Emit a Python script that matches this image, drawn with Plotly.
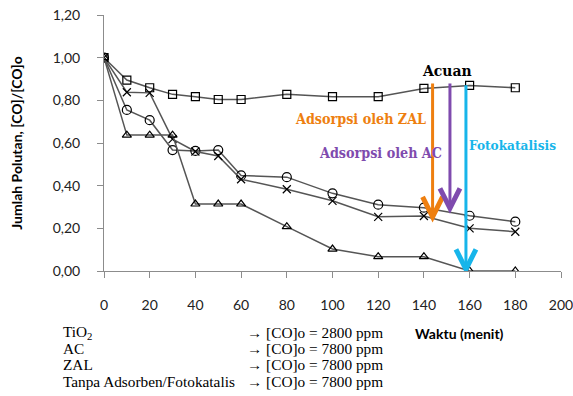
import plotly.graph_objects as go

# Time (minutes) and normalised CO concentration for each condition
waktu = [0, 10, 20, 30, 40, 50, 60, 80, 100, 120, 140, 160, 180]
tanpa = [1.00, 0.895, 0.859, 0.828, 0.817, 0.804, 0.804, 0.828, 0.817, 0.817, 0.856, 0.870, 0.859]
ac = [1.00, 0.755, 0.707, 0.567, 0.563, 0.567, 0.448, 0.440, 0.364, 0.311, 0.297, 0.259, 0.231]
zal = [1.00, 0.838, 0.835, 0.618, 0.560, 0.539, 0.430, 0.383, 0.329, 0.254, 0.258, 0.200, 0.184]
tio2 = [1.00, 0.637, 0.637, 0.637, 0.314, 0.314, 0.314, 0.208, 0.103, 0.067, 0.067, 0.0, 0.0]

x_ticks = [0, 20, 40, 60, 80, 100, 120, 140, 160, 180, 200]
y_ticks = [0.0, 0.2, 0.4, 0.6, 0.8, 1.0, 1.2]

# Vertical arrows: (colour, x, top, tip)
arrow_zal = ("#EE7F10", 143.8, 0.879, 0.254)
arrow_ac = ("#7F4BAE", 151.4, 0.879, 0.294)
arrow_foto = ("#17B5EA", 158.4, 0.871, 0.008)
arrows = [arrow_zal, arrow_ac, arrow_foto]

W, H = 573, 396
L, R, T, B = 104, 12, 15, 125
PW, PH = W - L - R, H - T - B


def px(xpix, ypix):
    """Figure pixel position -> paper coordinates of the plot area."""
    return (xpix - L) / PW, (H - B - ypix) / PH


line_col = "#555555"
series = [
    ("Tanpa Adsorben/Fotokatalis", tanpa, "square-open", 8),
    ("AC", ac, "circle-open", 9),
    ("ZAL", zal, "x-thin-open", 8),
    ("TiO2", tio2, "triangle-up-open", 8),
]

fig = go.Figure()
for name, vals, sym, size in series:
    fig.add_trace(go.Scatter(
        x=waktu, y=vals, name=name, mode="lines+markers",
        line=dict(color=line_col, width=1.5),
        marker=dict(symbol=sym, size=size, color="black",
                    line=dict(color="black", width=1.2)),
        showlegend=False,
    ))

shapes = []
px_x = PW / 200   # pixels per minute
px_y = PH / 1.2   # pixels per unit of concentration
for col, ax, top, tip in arrows:
    shapes.append(dict(type="line", xref="x", yref="y", x0=ax, x1=ax, y0=top, y1=tip + 0.01,
                       line=dict(color=col, width=3)))
    dx = 10 / px_x
    dy = 20 / px_y
    shapes.append(dict(type="path", xref="x", yref="y",
                       path=f"M {ax - dx},{tip + dy} L {ax},{tip} L {ax + dx},{tip + dy}",
                       line=dict(color=col, width=5)))

serif = "Liberation Serif"
bold_serif = "DejaVu Serif Condensed, DejaVu Serif"


def note(xpix, ypix, text, font, xanchor="center"):
    xp, yp = px(xpix, ypix)
    return dict(x=xp, y=yp, xref="paper", yref="paper", text=text, showarrow=False,
                xanchor=xanchor, yanchor="middle", font=font)


def label_font(size, color):
    return dict(family=bold_serif, size=size, color=color)


annotations = [
    note(446.7, 70.7, "<b>Acuan</b>", label_font(15.5, "black")),
    note(360, 119, "<b>Adsorpsi oleh ZAL</b>", label_font(14.2, arrow_zal[0])),
    note(380, 153, "<b>Adsorpsi oleh AC</b>", label_font(14.2, arrow_ac[0])),
    note(512.7, 145, "<b>Fotokatalisis</b>", label_font(13.5, arrow_foto[0])),
    note(459, 333, "<b>Waktu (menit)</b>", dict(family="Lato", size=14, color="black")),
]

notes_left = ["TiO<sub>2</sub>", "AC", "ZAL", "Tanpa Adsorben/Fotokatalis"]
notes_right = ["\u2192 [CO]o = 2800 ppm", "\u2192 [CO]o = 7800 ppm",
               "\u2192 [CO]o = 7800 ppm", "\u2192 [CO]o = 7800 ppm"]
row_y = [332.3, 348.3, 364.3, 381.0]
note_font = dict(family=serif, size=15.3, color="black")
for i in range(4):
    annotations.append(note(61, row_y[i], notes_left[i], note_font, "left"))
    annotations.append(note(385, row_y[i], notes_right[i], note_font, "right"))

fig.update_layout(
    width=W, height=H,
    margin=dict(l=L, r=R, t=T, b=B, autoexpand=False),
    paper_bgcolor="white", plot_bgcolor="white",
    separators=",.",
    shapes=shapes,
    annotations=annotations,
    font=dict(family="Lato", size=14, color="#222222"),
)
fig.update_xaxes(
    range=[0, 200.001], tickvals=x_ticks, showgrid=False, zeroline=False,
    showline=True, linecolor="#8c8c8c", linewidth=1, automargin=False,
    ticks="outside", ticklen=6, tickcolor="#8c8c8c", ticklabeloverflow="allow",
    ticklabelstandoff=15, tickfont=dict(family="Lato", size=14, color="#222222"),
)
fig.update_yaxes(
    range=[0, 1.2], tickvals=y_ticks, tickformat=".2f", showgrid=False, zeroline=False,
    showline=True, linecolor="#8c8c8c", linewidth=1, automargin=False,
    ticks="outside", ticklen=6, tickcolor="#8c8c8c",
    ticklabelstandoff=14, tickfont=dict(family="Lato", size=14, color="#222222"),
    title=dict(text="<b>Jumlah Polutan, [CO]/[CO]o</b>", standoff=26,
               font=dict(family="Lato", size=14, color="black")),
)

fig.write_html("out.html")
